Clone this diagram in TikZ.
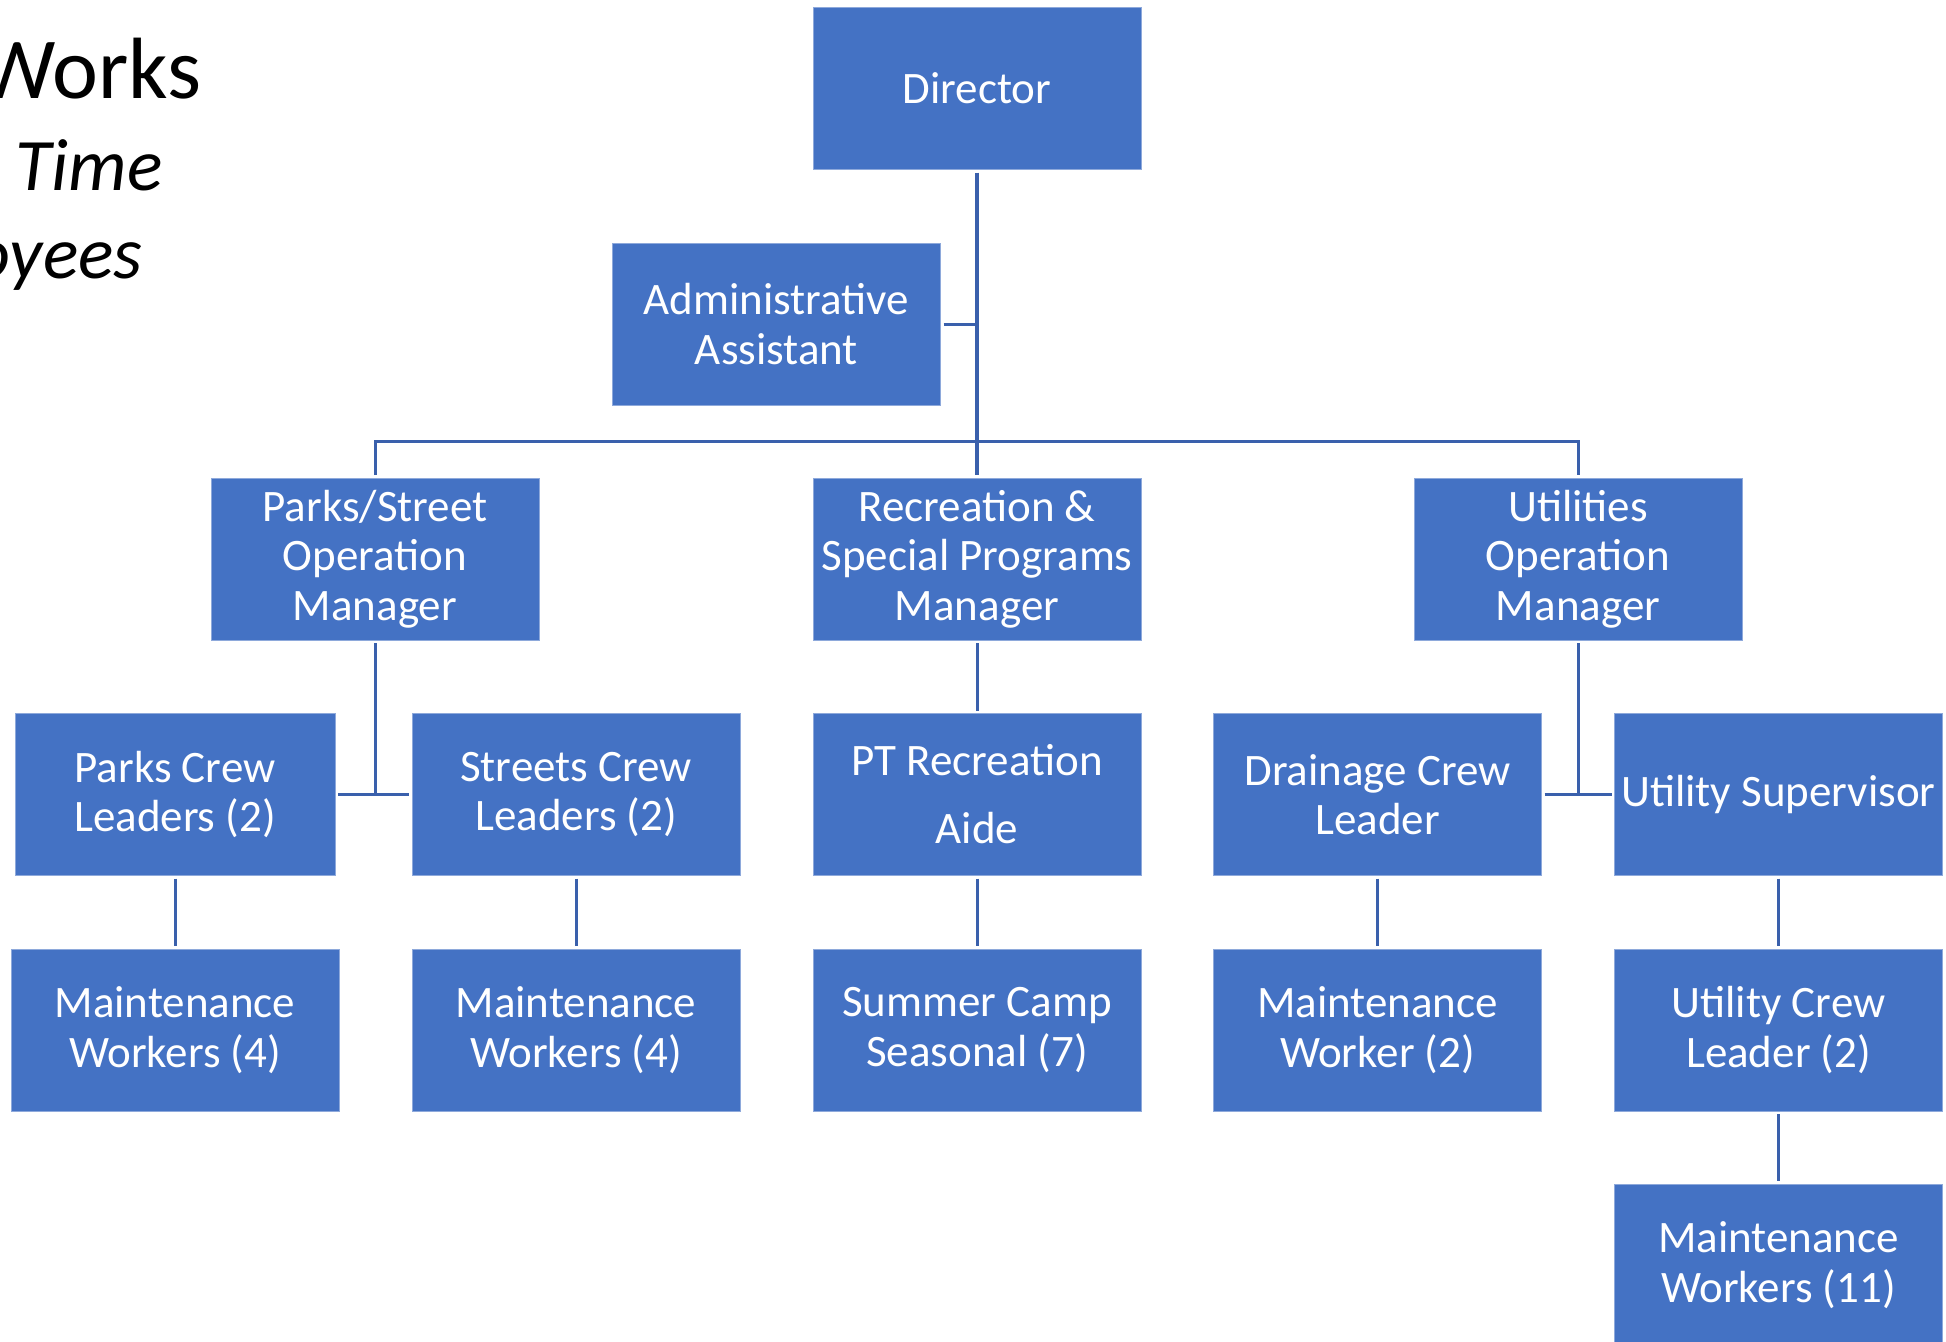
\documentclass[tikz,border=0pt]{standalone}
\usepackage{fontspec}
\setmainfont{Carlito}
\definecolor{boxblue}{HTML}{4472C4}
\definecolor{boxedge}{HTML}{8EA9DB}
\definecolor{lineblue}{HTML}{3A60AC}
\begin{document}
\begin{tikzpicture}[x=0.5pt,y=-0.5pt,
  box/.style={draw=boxedge, line width=0.5pt, fill=boxblue, text=white,
    minimum width=164pt, minimum height=81pt, inner sep=0pt, outer sep=1.5pt,
    align=center, font=\fontsize{22.5}{24.8}\selectfont},
  conn/.style={draw=lineblue, line width=1.5pt},
  ttl/.style={inner sep=0pt, anchor=base east, text=black}]
\useasboundingbox (0,0) rectangle (1946,1341);
\clip (0,0) rectangle (1946,1341);
% title
\node[ttl, font=\fontsize{43.5}{50}\selectfont] (t1) at (202,98) {Public Works};
\node[ttl, font=\fontsize{37}{44}\selectfont\itshape] (t2) at (163,190) {Full Time};
\node[ttl, font=\fontsize{37}{44}\selectfont\itshape] (t3) at (143,278) {Employees};
% boxes
\node[box] (dir) at (977,88.5) {Director};
\node[box] (adm) at (776.5,324) {Administrative\\Assistant};
\node[box] (par) at (375,559) {Parks/Street\\Operation\\Manager};
\node[box] (rec) at (977,559) {Recreation \&\\Special Programs\\Manager};
\node[box] (uti) at (1578,559) {Utilities\\Operation\\Manager};
\node[box, minimum width=160pt] (pcl) at (175,794.5) {Parks Crew\\Leaders (2)};
\node[box] (scl) at (576,794.5) {Streets Crew\\Leaders (2)};
\node[box, font=\fontsize{22.5}{34}\selectfont] (pta) at (977,794.5) {PT Recreation\\Aide};
\node[box] (dcl) at (1377.5,794.5) {Drainage Crew\\Leader};
\node[box] (usp) at (1778.5,794.5) {Utility Supervisor};
\node[box] (mw1) at (175,1030) {Maintenance\\Workers (4)};
\node[box] (mw2) at (576,1030) {Maintenance\\Workers (4)};
\node[box] (scs) at (977,1030) {Summer Camp\\Seasonal (7)};
\node[box] (mwd) at (1377.5,1030) {Maintenance\\Worker (2)};
\node[box] (ucl) at (1778.5,1030) {Utility Crew\\Leader (2)};
\node[box] (mwu) at (1778.5,1265) {Maintenance\\Workers (11)};
% connectors
\coordinate (bus) at (977,441);
\draw[conn, line width=1.8pt] (dir.south) -- (rec.north);
\draw[conn] (par.north) |- (bus) -| (uti.north);
\draw[conn] (adm.east) -- (adm.east -| dir.south);
\draw[conn] (par.south) -- (par.south |- pcl.east);
\draw[conn] (pcl.east) -- (scl.west);
\draw[conn] (rec.south) -- (pta.north);
\draw[conn] (uti.south) -- (uti.south |- dcl.east);
\draw[conn] (dcl.east) -- (usp.west);
\draw[conn] (pcl.south) -- (mw1.north);
\draw[conn] (scl.south) -- (mw2.north);
\draw[conn] (pta.south) -- (scs.north);
\draw[conn] (dcl.south) -- (mwd.north);
\draw[conn] (usp.south) -- (ucl.north);
\draw[conn] (ucl.south) -- (mwu.north);
\end{tikzpicture}
\end{document}
